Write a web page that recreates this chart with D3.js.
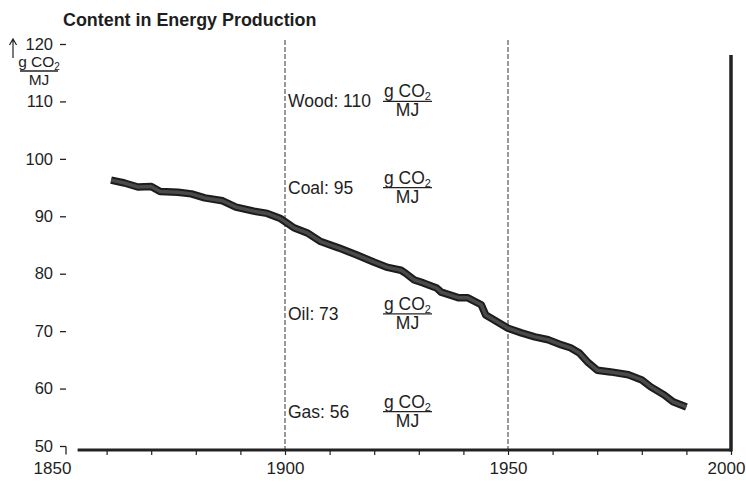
<!DOCTYPE html>
<html>
<head>
<meta charset="utf-8">
<script src="https://cdn.jsdelivr.net/npm/d3@7"></script>
<style>
  html, body { margin: 0; padding: 0; background: #fff; }
  svg { display: block; }
  text { font-family: "Liberation Sans", Arial, Helvetica, sans-serif; fill: #1e1e1e; }
</style>
</head>
<body>
<svg id="chart" width="746" height="483"></svg>
<script>
// ---- data ----
const title = "Content in Energy Production";
const years = [1861,1864,1867,1870,1872,1876,1879,1882,1886,1889,1893,1896,1899,
  1902,1905,1908,1912,1916,1920,1923,1926,1927,1929,1931,1934,1935,1939,1941,1944,1945,1947,
  1950,1953,1956,1959,1962,1964,1966,1968,1970,1973,1977,1980,1982,1985,1987,1990];
const values = [96.3,95.8,95.1,95.2,94.3,94.2,93.9,93.2,92.7,91.6,90.9,90.5,89.6,
  88.0,87.1,85.6,84.5,83.3,82.0,81.1,80.6,80.1,78.9,78.4,77.5,76.8,75.8,75.8,74.6,72.8,71.9,
  70.5,69.7,69.0,68.5,67.6,67.1,66.2,64.5,63.2,62.9,62.4,61.5,60.3,58.9,57.7,56.8];
const fuelNames = ["Wood", "Coal", "Oil", "Gas"];
const fuelValues = [110, 95, 73, 56];
const yTicks = [50, 60, 70, 80, 90, 100, 110, 120];
const xTicks = [1850,1860,1870,1880,1890,1900,1910,1920,1930,1940,1950,1960,1970,1980,1990,2000];
const xLabelYears = [1850, 1900, 1950, 2000];
const markerYears = [1900, 1950];

// ---- scales ----
const svg = d3.select("#chart");
const x = d3.scaleLinear().domain([1850, 2000]).range([62, 731]);
const y = d3.scaleLinear().domain([50, 120]).range([446, 44]);
const axisY = 450;
const ink = "#222";

// title
svg.append("text").attr("x", 63).attr("y", 26)
  .attr("font-size", 17.9).attr("font-weight", "bold").text(title);

// y axis
const yAxis = svg.append("g").attr("transform", "translate(66,0)")
  .call(d3.axisLeft(y).tickValues(yTicks).tickSize(6).tickPadding(7).tickFormat(d3.format("d")));
yAxis.select(".domain").remove();
yAxis.selectAll(".tick line").attr("stroke", ink).attr("stroke-width", 1.3);
yAxis.selectAll(".tick text").attr("font-size", 16.5).attr("fill", "#1e1e1e")
  .style("font-family", '"Liberation Sans", Arial, sans-serif');
yAxis.selectAll(".tick").filter(d => d === 50).append("line")
  .attr("x1", 0).attr("x2", 0).attr("y1", 0).attr("y2", 8)
  .attr("stroke", ink).attr("stroke-width", 1.3);

// y unit label with arrow
const unit = svg.append("g");
unit.append("path").attr("d", "M13,58 L13,40 M9.5,45 L13,39 L16.5,45")
  .attr("fill", "none").attr("stroke", ink).attr("stroke-width", 1.2);
const num = unit.append("text").attr("x", 39).attr("y", 67).attr("text-anchor", "middle").attr("font-size", 15.5);
num.append("tspan").text("g CO");
num.append("tspan").attr("font-size", 10).attr("dy", 3).text("2");
unit.append("line").attr("x1", 20).attr("x2", 58).attr("y1", 71).attr("y2", 71)
  .attr("stroke", ink).attr("stroke-width", 1.3);
unit.append("text").attr("x", 39).attr("y", 85).attr("text-anchor", "middle").attr("font-size", 15.5).text("MJ");

// dashed marker lines
svg.append("g").selectAll("line").data(markerYears).join("line")
  .attr("x1", d => x(d)).attr("x2", d => x(d))
  .attr("y1", 40).attr("y2", axisY)
  .attr("stroke", "#333").attr("stroke-width", 1).attr("stroke-dasharray", "5,2");

// x axis
const xAxis = svg.append("g").attr("transform", `translate(0,${axisY})`)
  .call(d3.axisBottom(x).tickValues(xTicks).tickSize(5).tickPadding(7)
    .tickFormat(d => xLabelYears.includes(d) ? String(d) : ""));
xAxis.select(".domain").remove();
xAxis.selectAll(".tick line").attr("stroke", ink).attr("stroke-width", 1.2)
  .filter(d => d === 1850).remove();
xAxis.selectAll(".tick text").attr("font-size", 17).attr("fill", "#1e1e1e")
  .style("font-family", '"Liberation Sans", Arial, sans-serif')
  .attr("dx", d => d === 1850 ? -10 : (d === 2000 ? -5 : 0));
svg.append("line").attr("x1", x(1853.5)).attr("x2", x(2000) + 1)
  .attr("y1", axisY).attr("y2", axisY).attr("stroke", ink).attr("stroke-width", 3);

// right frame line
svg.append("line").attr("x1", x(2000)).attr("x2", x(2000))
  .attr("y1", 55).attr("y2", axisY + 1.5).attr("stroke", ink).attr("stroke-width", 3.5);

// fuel annotations
const ann = svg.append("g").selectAll("g").data(fuelNames.map((n, i) => ({ n, v: fuelValues[i] }))).join("g")
  .attr("transform", d => `translate(0,${y(d.v)})`);
ann.append("text").attr("x", x(1900) + 3).attr("y", 6).attr("font-size", 17.5)
  .text(d => `${d.n}: ${d.v}`);
const fx = 383, fw = 49;
const fn = ann.append("text").attr("x", fx + fw / 2).attr("y", -4).attr("text-anchor", "middle").attr("font-size", 17.5);
fn.append("tspan").text("g CO");
fn.append("tspan").attr("font-size", 11).attr("dy", 3).text("2");
ann.append("line").attr("x1", fx).attr("x2", fx + fw).attr("y1", 0).attr("y2", 0)
  .attr("stroke", ink).attr("stroke-width", 1.3);
ann.append("text").attr("x", fx + fw / 2).attr("y", 15).attr("text-anchor", "middle").attr("font-size", 17.5).text("MJ");

// data line
const pts = years.map((yr, i) => [yr, values[i]]);
const line = d3.line().x(d => x(d[0])).y(d => y(d[1])).curve(d3.curveLinear);
svg.append("path").attr("d", line(pts)).attr("fill", "none")
  .attr("stroke", "#1c1c1c").attr("stroke-width", 7.5).attr("stroke-linejoin", "round");
svg.append("path").attr("d", line(pts)).attr("fill", "none")
  .attr("stroke", "#4a4a4a").attr("stroke-width", 3.5).attr("stroke-linejoin", "round");
</script>
</body>
</html>
